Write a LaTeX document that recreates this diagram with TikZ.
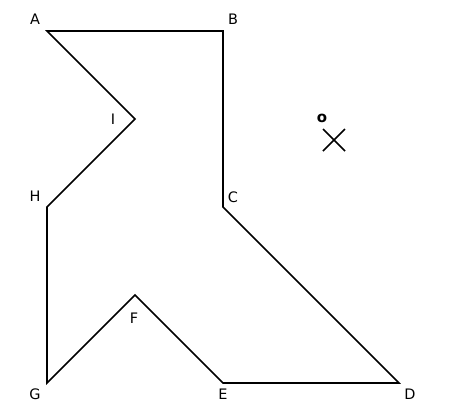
\documentclass[tikz,border=0pt]{standalone}
\usepackage{fontspec}
\setmainfont{DejaVu Sans}
\begin{document}
\begin{tikzpicture}[x=1bp,y=-1bp,
  lbl/.style={font=\fontsize{14.5}{17}\selectfont, inner sep=0pt},
  edge/.style={line width=1.6bp, line join=miter}]
\useasboundingbox (0,0) rectangle (464,419);
\coordinate (A) at (47,31);
\coordinate (B) at (223,31);
\coordinate (C) at (223,207);
\coordinate (D) at (399,383);
\coordinate (E) at (223,383);
\coordinate (F) at (135,295);
\coordinate (G) at (47,383);
\coordinate (H) at (47,207);
\coordinate (I) at (135,119);
\draw[edge] (A) -- (B) -- (C) -- (D) -- (E) -- (F) -- (G) -- (H) -- (I) -- cycle;
\node[lbl] (lA) at (35,19) {A};
\node[lbl] (lB) at (233,19) {B};
\node[lbl] (lC) at (233,197) {C};
\node[lbl] (lD) at (410,394) {D};
\node[lbl] (lE) at (223,394) {E};
\node[lbl] (lF) at (134,318) {F};
\node[lbl] (lG) at (35,394) {G};
\node[lbl] (lH) at (35,196) {H};
\node[lbl] (lI) at (113,119) {I};
\node[lbl, font=\fontsize{15}{17}\selectfont\bfseries] (lO) at (322,118.5) {o};
\coordinate (X1) at (323,129);
\coordinate (X2) at (345,151);
\coordinate (X3) at (345,129);
\coordinate (X4) at (323,151);
\draw[edge] (X1) -- (X2);
\draw[edge] (X3) -- (X4);
\end{tikzpicture}
\end{document}
